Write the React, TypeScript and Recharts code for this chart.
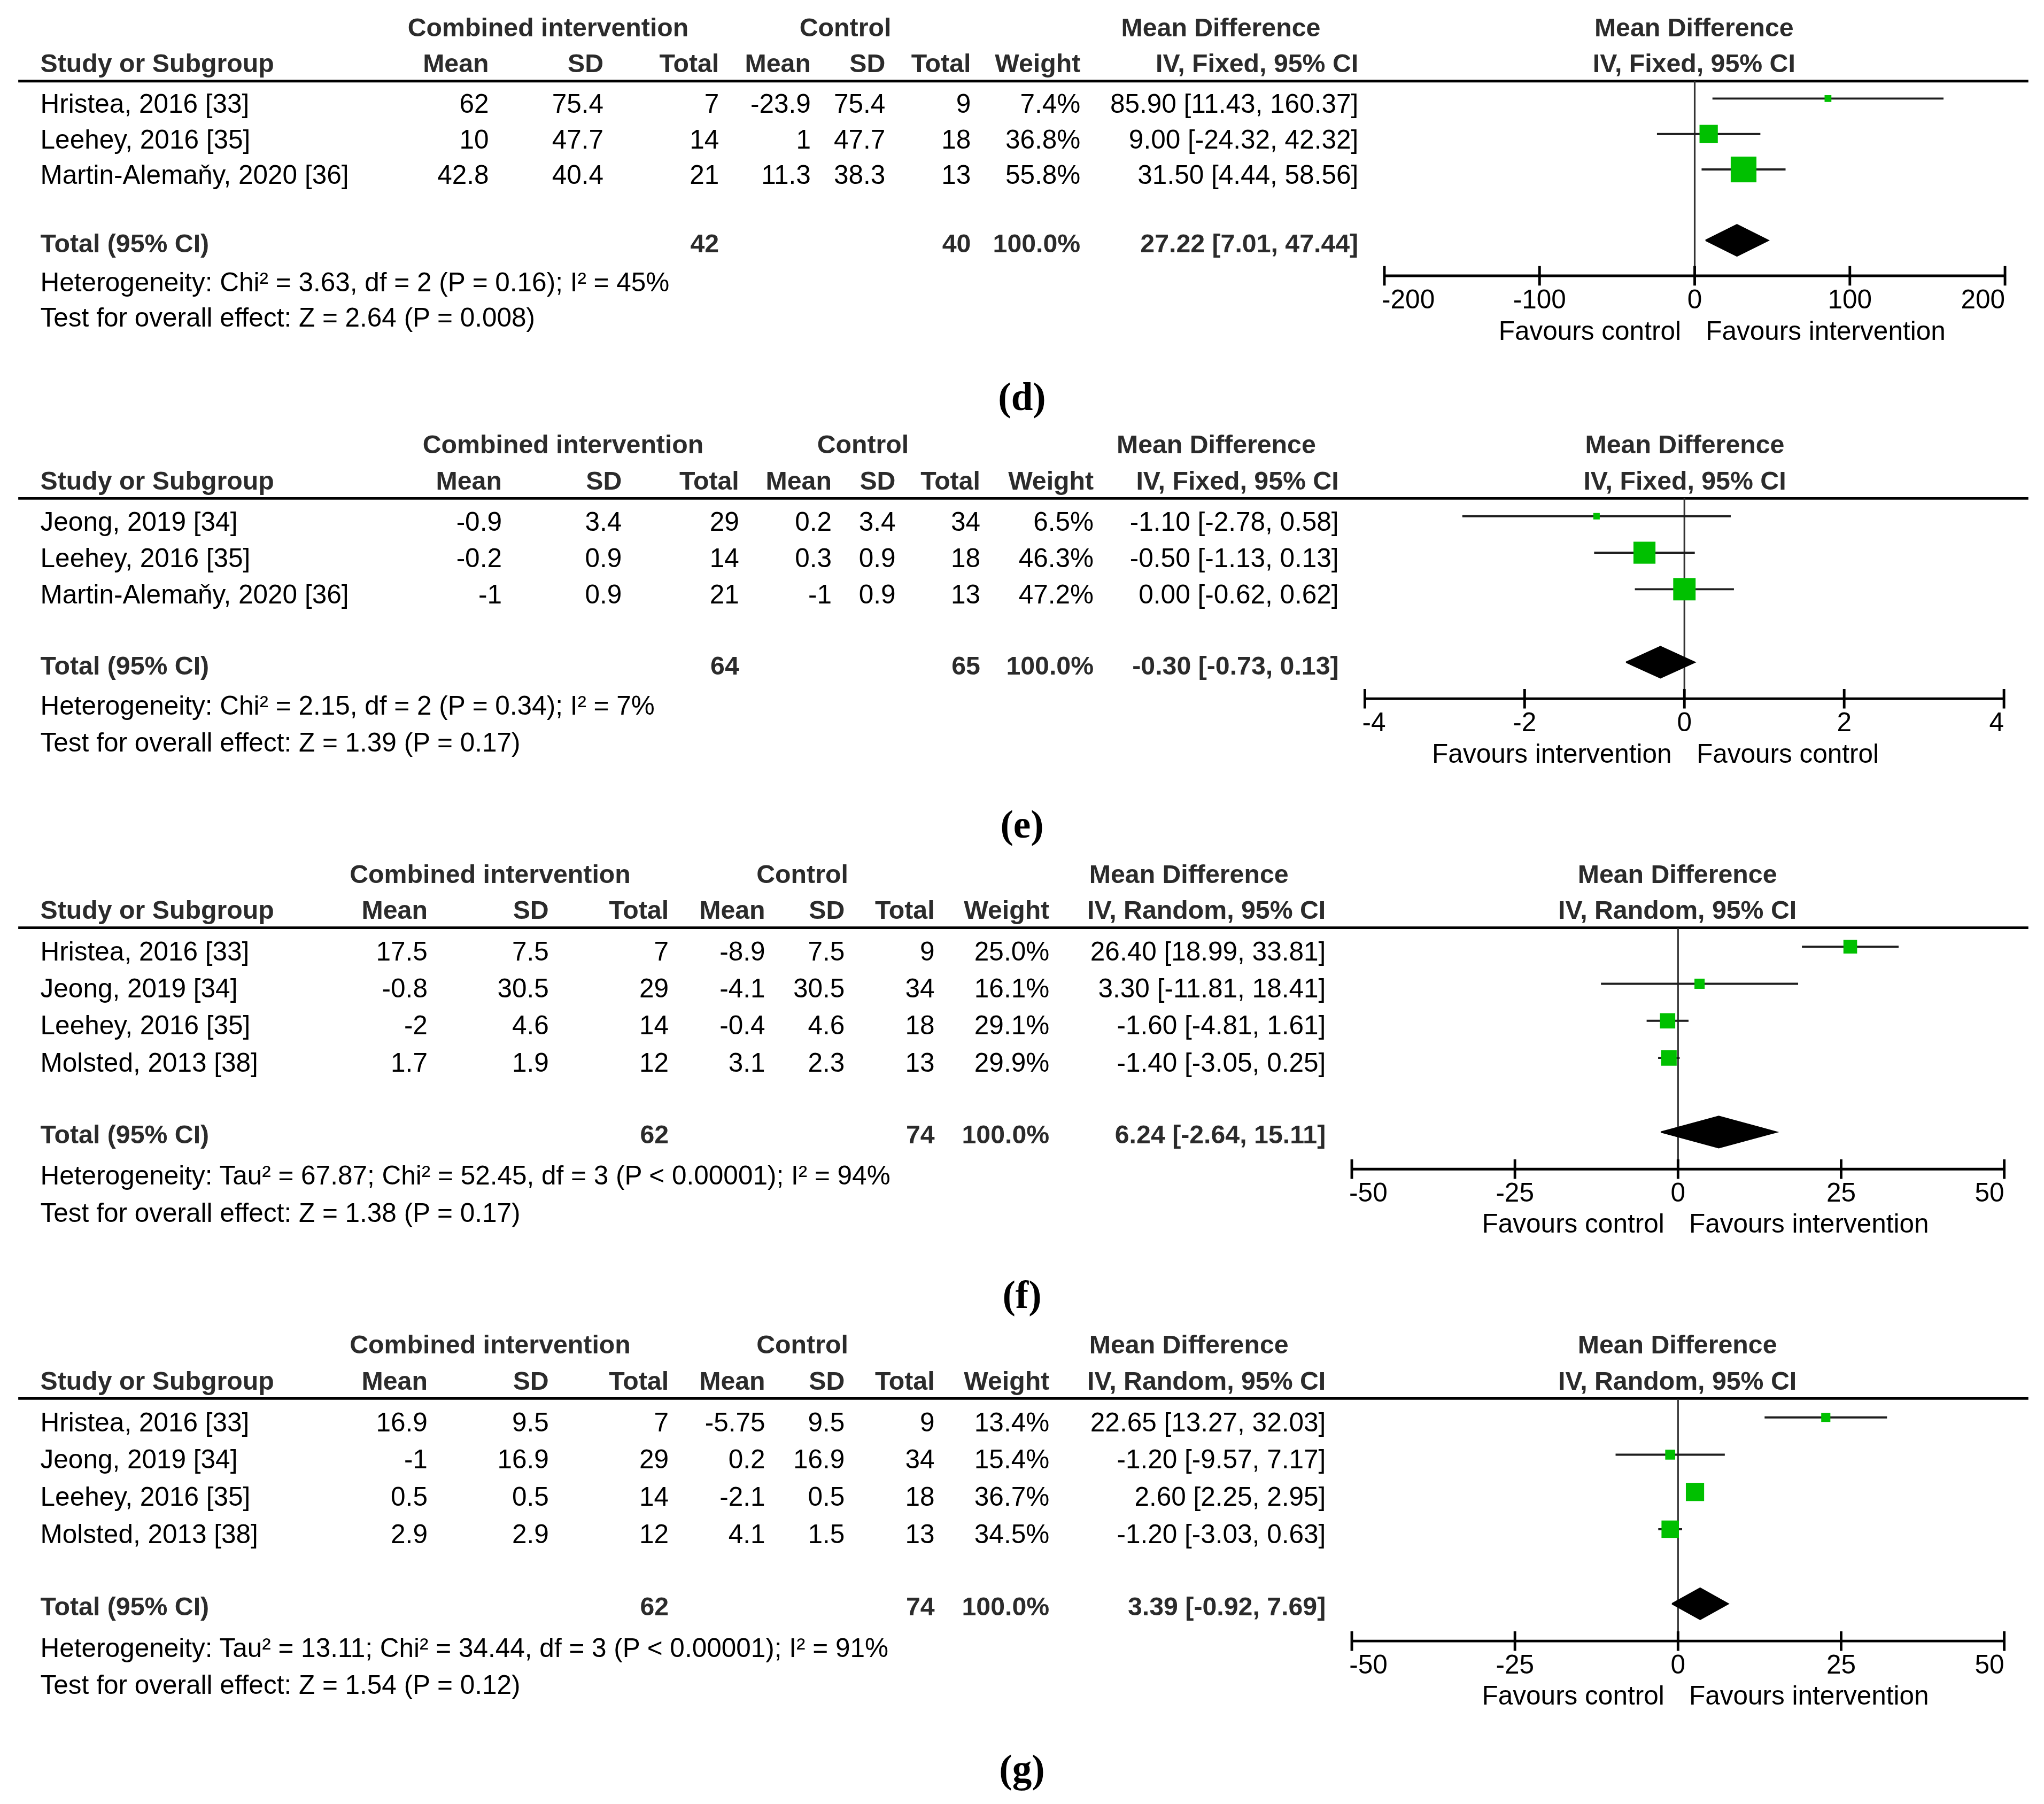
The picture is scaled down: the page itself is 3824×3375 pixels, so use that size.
import React from 'react';
import { ComposedChart, Scatter, XAxis, YAxis, ReferenceLine } from 'recharts';

// ---------------- DATA ----------------
// Panel (d)
const dStudies = ['Hristea, 2016 [33]', 'Leehey, 2016 [35]', 'Martin-Alemaňy, 2020 [36]'];
const dIntMean = [62, 10, 42.8];
const dIntSD = [75.4, 47.7, 40.4];
const dIntN = [7, 14, 21];
const dCtlMean = [-23.9, 1, 11.3];
const dCtlSD = [75.4, 47.7, 38.3];
const dCtlN = [9, 18, 13];
const dWeight = [7.4, 36.8, 55.8];
const dMD = [85.9, 9.0, 31.5];
const dLow = [11.43, -24.32, 4.44];
const dHigh = [160.37, 42.32, 58.56];
const dTotalN = [42, 40];
const dTotalEffect = [27.22, 7.01, 47.44];
const dHet = 'Heterogeneity: Chi² = 3.63, df = 2 (P = 0.16); I² = 45%';
const dTest = 'Test for overall effect: Z = 2.64 (P = 0.008)';
const dTicks = [-200, -100, 0, 100, 200];
const dFavours = ['Favours control', 'Favours intervention'];

// Panel (e)
const eStudies = ['Jeong, 2019 [34]', 'Leehey, 2016 [35]', 'Martin-Alemaňy, 2020 [36]'];
const eIntMean = [-0.9, -0.2, -1];
const eIntSD = [3.4, 0.9, 0.9];
const eIntN = [29, 14, 21];
const eCtlMean = [0.2, 0.3, -1];
const eCtlSD = [3.4, 0.9, 0.9];
const eCtlN = [34, 18, 13];
const eWeight = [6.5, 46.3, 47.2];
const eMD = [-1.1, -0.5, 0];
const eLow = [-2.78, -1.13, -0.62];
const eHigh = [0.58, 0.13, 0.62];
const eTotalN = [64, 65];
const eTotalEffect = [-0.3, -0.73, 0.13];
const eHet = 'Heterogeneity: Chi² = 2.15, df = 2 (P = 0.34); I² = 7%';
const eTest = 'Test for overall effect: Z = 1.39 (P = 0.17)';
const eTicks = [-4, -2, 0, 2, 4];
const eFavours = ['Favours intervention', 'Favours control'];

// Panel (f)
const fStudies = ['Hristea, 2016 [33]', 'Jeong, 2019 [34]', 'Leehey, 2016 [35]', 'Molsted, 2013 [38]'];
const fIntMean = [17.5, -0.8, -2, 1.7];
const fIntSD = [7.5, 30.5, 4.6, 1.9];
const fIntN = [7, 29, 14, 12];
const fCtlMean = [-8.9, -4.1, -0.4, 3.1];
const fCtlSD = [7.5, 30.5, 4.6, 2.3];
const fCtlN = [9, 34, 18, 13];
const fWeight = [25.0, 16.1, 29.1, 29.9];
const fMD = [26.4, 3.3, -1.6, -1.4];
const fLow = [18.99, -11.81, -4.81, -3.05];
const fHigh = [33.81, 18.41, 1.61, 0.25];
const fTotalN = [62, 74];
const fTotalEffect = [6.24, -2.64, 15.11];
const fHet = 'Heterogeneity: Tau² = 67.87; Chi² = 52.45, df = 3 (P < 0.00001); I² = 94%';
const fTest = 'Test for overall effect: Z = 1.38 (P = 0.17)';
const fTicks = [-50, -25, 0, 25, 50];
const fFavours = ['Favours control', 'Favours intervention'];

// Panel (g)
const gStudies = ['Hristea, 2016 [33]', 'Jeong, 2019 [34]', 'Leehey, 2016 [35]', 'Molsted, 2013 [38]'];
const gIntMean = [16.9, -1, 0.5, 2.9];
const gIntSD = [9.5, 16.9, 0.5, 2.9];
const gIntN = [7, 29, 14, 12];
const gCtlMean = [-5.75, 0.2, -2.1, 4.1];
const gCtlSD = [9.5, 16.9, 0.5, 1.5];
const gCtlN = [9, 34, 18, 13];
const gWeight = [13.4, 15.4, 36.7, 34.5];
const gMD = [22.65, -1.2, 2.6, -1.2];
const gLow = [13.27, -9.57, 2.25, -3.03];
const gHigh = [32.03, 7.17, 2.95, 0.63];
const gTotalN = [62, 74];
const gTotalEffect = [3.39, -0.92, 7.69];
const gHet = 'Heterogeneity: Tau² = 13.11; Chi² = 34.44, df = 3 (P < 0.00001); I² = 91%';
const gTest = 'Test for overall effect: Z = 1.54 (P = 0.12)';
const gTicks = [-50, -25, 0, 25, 50];
const gFavours = ['Favours control', 'Favours intervention'];

const groupHeaders = ['Combined intervention', 'Control', 'Mean Difference'];
const colHeaders = ['Mean', 'SD', 'Total', 'Mean', 'SD', 'Total', 'Weight'];

// ---------------- LAYOUT / STYLE ----------------
const W = 1568;
const H = 1384;
const K = 3824 / 1568;
const FONT = '"Liberation Sans", Arial, Helvetica, sans-serif';
const SERIF = '"Liberation Serif", "Times New Roman", serif';
const GREEN = '#00c000';
const FS = 20.3;
const FSB = 19.8;

const colsDE1 = [375, 463, 551.6, 622, 679.2, 744.8, 828.8, 1042];
const colsE = [385, 477, 567, 638, 687, 752, 839, 1027];
const colsFG = [328, 421, 513, 587, 648, 717, 805, 1017];

const panels = [
  {
    letter: '(d)', method: 'IV, Fixed, 95% CI',
    studies: dStudies, im: dIntMean, isd: dIntSD, inn: dIntN, cm: dCtlMean, csd: dCtlSD, cn: dCtlN,
    w: dWeight, md: dMD, lo: dLow, hi: dHigh, totN: dTotalN, tot: dTotalEffect,
    het: dHet, test: dTest, ticks: dTicks, fav: dFavours,
    L: { headerY: 62.2, R: 27.2, cols: colsDE1, groupX: [420.5, 648.5, 936.5], plotL: 1061.5, plotR: 1537.6, letterY: 314.5 },
  },
  {
    letter: '(e)', method: 'IV, Fixed, 95% CI',
    studies: eStudies, im: eIntMean, isd: eIntSD, inn: eIntN, cm: eCtlMean, csd: eCtlSD, cn: eCtlN,
    w: eWeight, md: eMD, lo: eLow, hi: eHigh, totN: eTotalN, tot: eTotalEffect,
    het: eHet, test: eTest, ticks: eTicks, fav: eFavours,
    L: { headerY: 382.3, R: 28, cols: colsE, groupX: [432, 662, 933], plotL: 1047.3, plotR: 1537.6, letterY: 642.5 },
  },
  {
    letter: '(f)', method: 'IV, Random, 95% CI',
    studies: fStudies, im: fIntMean, isd: fIntSD, inn: fIntN, cm: fCtlMean, csd: fCtlSD, cn: fCtlN,
    w: fWeight, md: fMD, lo: fLow, hi: fHigh, totN: fTotalN, tot: fTotalEffect,
    het: fHet, test: fTest, ticks: fTicks, fav: fFavours,
    L: { headerY: 711.7, R: 28.44, cols: colsFG, groupX: [376, 615.5, 912], plotL: 1036.5, plotR: 1537, letterY: 1003.5 },
  },
  {
    letter: '(g)', method: 'IV, Random, 95% CI',
    studies: gStudies, im: gIntMean, isd: gIntSD, inn: gIntN, cm: gCtlMean, csd: gCtlSD, cn: gCtlN,
    w: gWeight, md: gMD, lo: gLow, hi: gHigh, totN: gTotalN, tot: gTotalEffect,
    het: gHet, test: gTest, ticks: gTicks, fav: gFavours,
    L: { headerY: 1072.8, R: 28.6, cols: colsFG, groupX: [376, 615.5, 912], plotL: 1036.5, plotR: 1537, letterY: 1367 },
  },
];

const ci = (m: number, l: number, h: number) => `${m.toFixed(2)} [${l.toFixed(2)}, ${h.toFixed(2)}]`;

function Txt({ x, y, anchor = 'start', bold = false, children }: any) {
  return (
    <text
      x={x}
      y={y}
      textAnchor={anchor}
      fontFamily={FONT}
      fontSize={bold ? FSB : FS}
      fontWeight={bold ? 700 : 400}
      fill={bold ? '#2b2b2b' : '#000'}
    >
      {children}
    </text>
  );
}

function PanelText({ p }: any) {
  const L = p.L;
  const n = p.studies.length;
  const hy = L.headerY;
  const rowY = (i: number) => hy + (i + 0.5) * L.R;
  const diaY = rowY(n + 1);
  const axisY = hy + (n + 2.5) * L.R;
  const zeroX = (L.plotL + L.plotR) / 2;
  const plotC = zeroX;
  const hetY = diaY + 1.43 * L.R;
  return (
    <g>
      {/* group headers */}
      {groupHeaders.map((g, i) => (
        <Txt key={'g' + i} x={L.groupX[i]} y={hy - 34.5} anchor="middle" bold>{g}</Txt>
      ))}
      <Txt x={plotC} y={hy - 34.5} anchor="middle" bold>Mean Difference</Txt>
      {/* column headers */}
      <Txt x={31} y={hy - 6.8} bold>Study or Subgroup</Txt>
      {colHeaders.map((c, i) => (
        <Txt key={'c' + i} x={L.cols[i]} y={hy - 6.8} anchor="end" bold>{c}</Txt>
      ))}
      <Txt x={L.cols[7]} y={hy - 6.8} anchor="end" bold>{p.method}</Txt>
      <Txt x={plotC} y={hy - 6.8} anchor="middle" bold>{p.method}</Txt>
      <line x1={14} x2={1556} y1={hy} y2={hy} stroke="#000" strokeWidth={2} />
      {/* study rows */}
      {p.studies.map((s: string, i: number) => {
        const y = rowY(i) + 10.8;
        const vals = [p.im[i], p.isd[i], p.inn[i], p.cm[i], p.csd[i], p.cn[i]].map((v: number) => String(v));
        return (
          <g key={'r' + i}>
            <Txt x={31} y={y}>{s}</Txt>
            {vals.map((v: string, j: number) => (
              <Txt key={j} x={L.cols[j]} y={y} anchor="end">{v}</Txt>
            ))}
            <Txt x={L.cols[6]} y={y} anchor="end">{p.w[i].toFixed(1) + '%'}</Txt>
            <Txt x={L.cols[7]} y={y} anchor="end">{ci(p.md[i], p.lo[i], p.hi[i])}</Txt>
          </g>
        );
      })}
      {/* total row */}
      <Txt x={31} y={diaY + 9} bold>Total (95% CI)</Txt>
      <Txt x={L.cols[2]} y={diaY + 9} anchor="end" bold>{String(p.totN[0])}</Txt>
      <Txt x={L.cols[5]} y={diaY + 9} anchor="end" bold>{String(p.totN[1])}</Txt>
      <Txt x={L.cols[6]} y={diaY + 9} anchor="end" bold>100.0%</Txt>
      <Txt x={L.cols[7]} y={diaY + 9} anchor="end" bold>{ci(p.tot[0], p.tot[1], p.tot[2])}</Txt>
      <Txt x={31} y={hetY}>{p.het}</Txt>
      <Txt x={31} y={hetY + L.R}>{p.test}</Txt>
      {/* favours labels */}
      <Txt x={zeroX - 10} y={axisY + 49} anchor="end">{p.fav[0]}</Txt>
      <Txt x={zeroX + 9} y={axisY + 49}>{p.fav[1]}</Txt>
      {/* panel letter */}
      <text x={784} y={L.letterY} textAnchor="middle" fontFamily={SERIF} fontSize={30} fontWeight={700} fill="#000">
        {p.letter}
      </text>
    </g>
  );
}

function makeTick(ticks: number[]) {
  return (props: any) => {
    const { x, y, payload } = props;
    const v = payload.value;
    const ay = y - 7;
    const anchor = v === ticks[0] ? 'start' : v === ticks[ticks.length - 1] ? 'end' : 'middle';
    const tx = v === ticks[0] ? x - 2 : x;
    return (
      <g>
        <line x1={x} x2={x} y1={ay - 7.5} y2={ay + 7.5} stroke="#000" strokeWidth={2} />
        <text x={tx} y={ay + 25} textAnchor={anchor} fontFamily={FONT} fontSize={FS} fill="#000">
          {String(v)}
        </text>
      </g>
    );
  };
}

const Nothing = () => <g />;

const Square = (props: any) => {
  const s = 3 + 0.3 * props.payload.w;
  return <rect x={props.cx - s / 2} y={props.cy - s / 2} width={s} height={s} fill={GREEN} />;
};

function ForestPlot({ p }: any) {
  const L = p.L;
  const n = p.md.length;
  const ML = 24;
  const MR = 24;
  const AXH = 40;
  const plotW = L.plotR - L.plotL;
  const plotH = (n + 2.5) * L.R;
  const width = plotW + ML + MR;
  const height = plotH + AXH;
  const tRow = n + 1;
  const half = 12 / L.R;
  const squares = p.md.map((v: number, i: number) => ({ x: v, y: i, w: p.w[i] }));
  const ciSets = p.md.map((_: number, i: number) => [
    { x: p.lo[i], y: i },
    { x: p.hi[i], y: i },
  ]);
  const diamond = [
    { x: p.tot[1], y: tRow },
    { x: p.tot[0], y: tRow - half },
    { x: p.tot[2], y: tRow },
    { x: p.tot[0], y: tRow + half },
    { x: p.tot[1], y: tRow },
  ];
  const ticks = p.ticks;
  return (
    <div style={{ position: 'absolute', left: L.plotL - ML, top: L.headerY, width, height }}>
      <ComposedChart width={width} height={height} margin={{ top: 0, right: MR, bottom: 0, left: ML }}>
        <XAxis
          type="number"
          dataKey="x"
          domain={[ticks[0], ticks[ticks.length - 1]]}
          ticks={ticks}
          interval={0}
          allowDataOverflow
          height={AXH}
          tickSize={7}
          tickMargin={0}
          tickLine={false}
          axisLine={{ stroke: '#000', strokeWidth: 2 }}
          tick={makeTick(ticks)}
        />
        <YAxis type="number" dataKey="y" domain={[-0.5, n + 2]} reversed hide width={0} allowDataOverflow />
        <ReferenceLine x={0} stroke="#333" strokeWidth={1.3} />
        {ciSets.map((pts: any[], i: number) => (
          <Scatter
            key={'ci' + i}
            data={pts}
            fill="none"
            line={{ stroke: '#1e1e1e', strokeWidth: 1.6 }}
            lineType="joint"
            shape={Nothing}
            isAnimationActive={false}
            legendType="none"
          />
        ))}
        <Scatter data={squares} fill={GREEN} shape={Square} isAnimationActive={false} legendType="none" />
        <Scatter
          data={diamond}
          fill="#000"
          line={{ stroke: '#000', strokeWidth: 1, fill: '#000' }}
          lineType="joint"
          shape={Nothing}
          isAnimationActive={false}
          legendType="none"
        />
      </ComposedChart>
    </div>
  );
}

export default function App() {
  return (
    <>
      <style>{'html,body{margin:0;padding:0;overflow:hidden;background:#fff}'}</style>
      <div
        style={{
          position: 'absolute',
          left: 0,
          top: 0,
          width: W,
          height: H,
          transform: `scale(${K})`,
          transformOrigin: '0 0',
          background: '#fff',
        }}
      >
        <svg width={W} height={H} style={{ position: 'absolute', left: 0, top: 0 }}>
          {panels.map((p) => (
            <PanelText key={p.letter} p={p} />
          ))}
        </svg>
        {panels.map((p) => (
          <ForestPlot key={p.letter} p={p} />
        ))}
      </div>
    </>
  );
}
